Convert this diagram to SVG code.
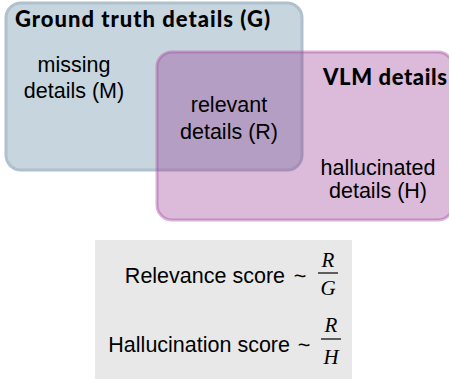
<svg xmlns="http://www.w3.org/2000/svg" width="449" height="379" viewBox="0 0 449 379">
<style>
.t{font-family:"Liberation Sans",Arial,sans-serif;font-size:21.5px;fill:#000}
.b{font-family:Lato,"Liberation Sans",sans-serif;font-weight:900;font-size:22px;fill:#000}
.m{font-family:"Liberation Serif","Times New Roman",serif;font-style:italic;font-size:21px;fill:#000}
.c{text-anchor:middle}
</style>
<rect width="449" height="379" fill="#fff"/>
<g id="ground-truth">
<rect x="6" y="3" width="296" height="167" rx="15" fill="#c6d5de" stroke="#b0c1cd" stroke-width="3"/>
<text class="b" x="15" y="27" textLength="255" lengthAdjust="spacing">Ground truth details (G)</text>
<text class="t c" x="74" y="72">missing</text>
<text class="t c" x="74" y="98">details (M)</text>
</g>
<g id="vlm">
<rect x="157" y="52" width="296" height="168" rx="15" fill="#932d90" fill-opacity="0.33" stroke="#a64ba3" stroke-opacity="0.42" stroke-width="3"/>
<text class="b" x="323" y="85" textLength="124" lengthAdjust="spacing">VLM details</text>
<text class="t c" x="229" y="112">relevant</text>
<text class="t c" x="229" y="139">details (R)</text>
<text class="t c" x="378" y="175">hallucinated</text>
<text class="t c" x="378" y="198">details (H)</text>
</g>
<g id="scores">
<rect x="95" y="240" width="257" height="139" fill="#e8e8e8"/>
<text class="t" x="285" y="283" text-anchor="end">Relevance score</text>
<text class="t" x="300" y="283" text-anchor="middle">~</text>
<text class="m c" x="328" y="267">R</text>
<line x1="318" y1="273" x2="338" y2="273" stroke="#000" stroke-width="1.2"/>
<text class="m c" x="328" y="295">G</text>
<text class="t" x="290" y="352" text-anchor="end">Hallucination score</text>
<text class="t" x="304" y="352" text-anchor="middle">~</text>
<text class="m c" x="331" y="332">R</text>
<line x1="321" y1="339" x2="341" y2="339" stroke="#000" stroke-width="1.2"/>
<text class="m c" x="331" y="364">H</text>
</g>
</svg>
